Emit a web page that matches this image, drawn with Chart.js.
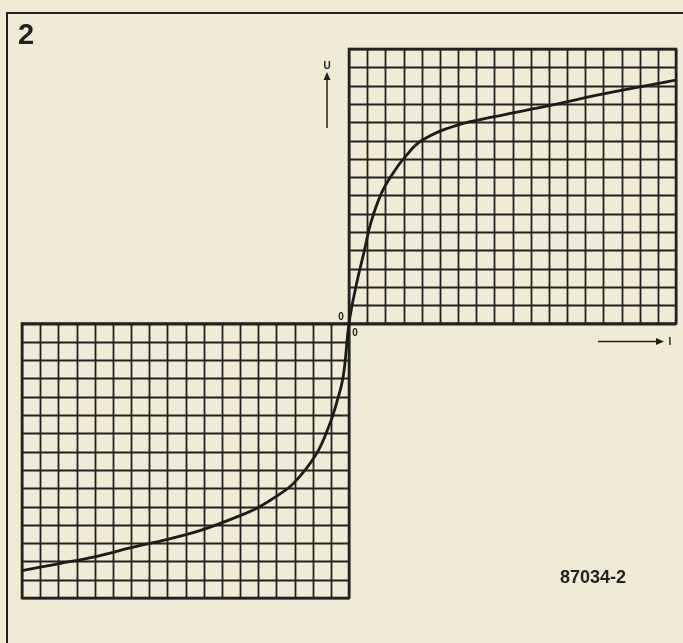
<!DOCTYPE html>
<html>
<head>
<meta charset="utf-8">
<title>U-I characteristic</title>
<script src="https://cdn.jsdelivr.net/npm/chart.js@4.4.1/dist/chart.umd.min.js"></script>
<style>
  html, body { margin: 0; padding: 0; background: #efebd4; }
  #wrap { width: 683px; height: 643px; position: relative; }
</style>
</head>
<body>
<div id="wrap"><canvas id="uiChart" width="683" height="643"></canvas></div>
<script>
// current I (grid divisions) and voltage U (grid divisions)
const currentNeg = [-18, -16, -14, -12, -10, -8, -6, -5, -4, -3, -1.8, -1.1, -0.7, -0.32, 0];
const voltageNeg = [-13.5, -13.13, -12.75, -12.25, -11.8, -11.25, -10.5, -10.05, -9.45, -8.68, -7.13, -5.6, -4.4, -2.9, 0];
const currentPos = [0.4, 0.85, 1.2, 1.8, 2.45, 3, 4, 6, 8, 11, 14, 18];
const voltagePos = [2.1, 4.0, 5.5, 7.15, 8.25, 9.0, 10.0, 10.85, 11.3, 11.9, 12.55, 13.3];

const figureNo = "2";
const codeLabel = "87034-2";
const uLabel = "U";
const iLabel = "I";
const zeroLabel = "0";

const ink = "#222220";
const paper = "#efebd4";

const points = currentNeg.map((x, i) => ({ x, y: voltageNeg[i] }))
  .concat(currentPos.map((x, i) => ({ x, y: voltagePos[i] })));

function tickValues(scale) {
  if (scale.ticks && scale.ticks.length) return scale.ticks.map(t => t.value);
  const vals = [];
  for (let v = scale.min; v <= scale.max; v++) vals.push(v);
  return vals;
}

// paper, frame and the two quadrant grids (I and III only)
const quadrantGrid = {
  id: "quadrantGrid",
  beforeDraw(chart) {
    const ctx = chart.ctx;
    const xs = chart.scales.x, ys = chart.scales.y;
    ctx.save();
    ctx.fillStyle = paper;
    ctx.fillRect(0, 0, chart.width, chart.height);

    // frame of the figure
    ctx.strokeStyle = ink;
    ctx.lineWidth = 2;
    ctx.beginPath();
    ctx.moveTo(7, chart.height + 2);
    ctx.lineTo(7, 13);
    ctx.lineTo(chart.width + 2, 13);
    ctx.stroke();

    const x0 = xs.getPixelForValue(0), y0 = ys.getPixelForValue(0);
    const xMin = xs.getPixelForValue(xs.min), xMax = xs.getPixelForValue(xs.max);
    const yMin = ys.getPixelForValue(ys.min), yMax = ys.getPixelForValue(ys.max);
    const xv = tickValues(xs), yv = tickValues(ys);

    ctx.lineWidth = 1.8;
    ctx.strokeStyle = ink;
    ctx.beginPath();
    xv.forEach(v => {
      const px = Math.round(xs.getPixelForValue(v)) + 0.5;
      if (v >= 0) { ctx.moveTo(px, yMax); ctx.lineTo(px, y0); }
      if (v <= 0) { ctx.moveTo(px, y0); ctx.lineTo(px, yMin); }
    });
    yv.forEach(v => {
      const py = Math.round(ys.getPixelForValue(v)) + 0.5;
      if (v >= 0) { ctx.moveTo(x0, py); ctx.lineTo(xMax, py); }
      if (v <= 0) { ctx.moveTo(xMin, py); ctx.lineTo(x0, py); }
    });
    ctx.stroke();

    // heavier outline of each quadrant
    ctx.lineWidth = 2.6;
    ctx.strokeRect(x0, yMax, xMax - x0, y0 - yMax);
    ctx.strokeRect(xMin, y0, x0 - xMin, yMin - y0);
    ctx.restore();
  },
  afterDraw(chart) {
    const ctx = chart.ctx;
    const xs = chart.scales.x, ys = chart.scales.y;
    const x0 = xs.getPixelForValue(0), y0 = ys.getPixelForValue(0);
    ctx.save();
    ctx.fillStyle = ink;
    ctx.strokeStyle = ink;

    ctx.font = "bold 29px 'Liberation Sans', Arial, sans-serif";
    ctx.textBaseline = "alphabetic";
    ctx.textAlign = "left";
    ctx.fillText(figureNo, 18, 44);

    ctx.font = "bold 18px 'Liberation Sans', Arial, sans-serif";
    ctx.fillText(codeLabel, 560, 583);

    // U arrow
    ctx.font = "bold 10px 'Liberation Sans', Arial, sans-serif";
    ctx.textAlign = "center";
    ctx.fillText(uLabel, 327, 69);
    ctx.lineWidth = 1.5;
    ctx.beginPath();
    ctx.moveTo(327, 128); ctx.lineTo(327, 78);
    ctx.stroke();
    ctx.beginPath();
    ctx.moveTo(327, 72); ctx.lineTo(323.5, 80); ctx.lineTo(330.5, 80); ctx.closePath();
    ctx.fill();

    // I arrow
    ctx.beginPath();
    ctx.moveTo(598, 341.5); ctx.lineTo(657, 341.5);
    ctx.stroke();
    ctx.beginPath();
    ctx.moveTo(664, 341.5); ctx.lineTo(656, 338); ctx.lineTo(656, 345); ctx.closePath();
    ctx.fill();
    ctx.fillText(iLabel, 670, 345);

    // origin marks
    ctx.font = "bold 10px 'Liberation Sans', Arial, sans-serif";
    ctx.fillText(zeroLabel, x0 - 8, y0 - 4);
    ctx.fillText(zeroLabel, x0 + 6, y0 + 12);
    ctx.restore();
  }
};

new Chart(document.getElementById("uiChart").getContext("2d"), {
  type: "scatter",
  data: {
    datasets: [{
      data: points,
      showLine: true,
      borderColor: "#1b1b19",
      borderWidth: 2.8,
      pointRadius: 0,
      tension: 0.4,
      fill: false
    }]
  },
  options: {
    responsive: false,
    animation: false,
    layout: { padding: { left: 22, right: 7, top: 49, bottom: 45 } },
    plugins: { legend: { display: false }, tooltip: { enabled: false } },
    scales: {
      x: { type: "linear", min: -18, max: 18, display: false, ticks: { stepSize: 1, maxTicksLimit: 50, autoSkip: false } },
      y: { type: "linear", min: -15, max: 15, display: false, ticks: { stepSize: 1, maxTicksLimit: 50, autoSkip: false } }
    }
  },
  plugins: [quadrantGrid]
});
</script>
</body>
</html>
